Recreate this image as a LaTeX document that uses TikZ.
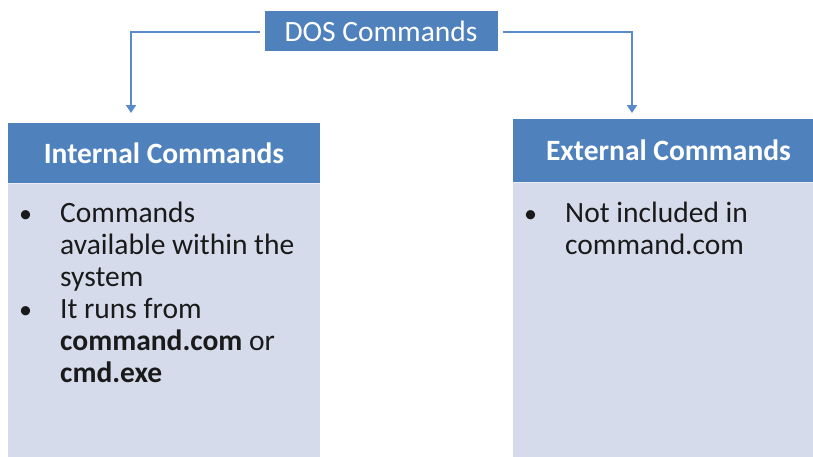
\documentclass[tikz,border=0pt]{standalone}
\usepackage{fontspec}
\setmainfont{Carlito}
\usetikzlibrary{arrows.meta,shadows}
\definecolor{hdrblue}{HTML}{4F81BD}
\definecolor{bodylav}{HTML}{D5DBEA}
\definecolor{linkblue}{HTML}{5A8ACB}
\definecolor{bodyink}{HTML}{1A1A1A}
\tikzset{
  panelhead/.style={fill=hdrblue, draw=none, inner sep=0pt, text=white,
    font=\fontsize{29.5}{32}\selectfont\bfseries},
  panelbody/.style={fill=bodylav, draw=none},
  bodytext/.style={anchor=base west, inner sep=0pt, align=left, text=bodyink,
    font=\fontsize{29.5}{32}\selectfont},
  link/.style={draw=linkblue, line width=2pt, -{Triangle[width=10pt,length=8pt]}},
}
\newcommand{\bul}{\llap{\makebox[41pt][l]{\fontsize{26}{32}\selectfont•}}}
\begin{document}
\begin{tikzpicture}[x=1pt,y=-1pt]
\useasboundingbox (0,0) rectangle (813,456);
\clip (0,0) rectangle (813,456);
% top node
\node[fill=hdrblue, draw=white, line width=5pt, text=white,
      minimum width=238pt, minimum height=45pt, inner sep=0pt,
      font=\fontsize{29.5}{32}\selectfont,
      drop shadow={opacity=0.3, shadow xshift=1.5pt, shadow yshift=-2.5pt}]
      (top) at (381,31) {DOS Commands};
% left panel
\fill[panelbody] (8,183) rectangle (320,470);
\node[panelhead, minimum width=312pt, minimum height=60pt] (lh) at (164,153) {Internal Commands};
\draw[white, opacity=0.5, line width=1pt] (8,183.5) -- (320,183.5);
% right panel
\fill[panelbody] (513,182) rectangle (824,470);
\node[panelhead, minimum width=311pt, minimum height=63pt] (rh) at (668.5,150.5) {External Commands};
\draw[white, opacity=0.5, line width=1pt] (513,182.5) -- (824,182.5);
% connectors
\coordinate (lt) at (131,113);
\coordinate (rt) at (632,113);
\draw[link] ([yshift=-1pt]top.west) -| (lt);
\draw[link] ([yshift=-1pt]top.east) -| (rt);
% texts
\node[bodytext] (ltext) at (60,382) {\bul Commands\\available within the\\system\\\bul It runs from\\\textbf{command.com} or\\\textbf{cmd.exe}};
\node[bodytext] (rtext) at (565,254) {\bul Not included in\\command.com};
\end{tikzpicture}
\end{document}
